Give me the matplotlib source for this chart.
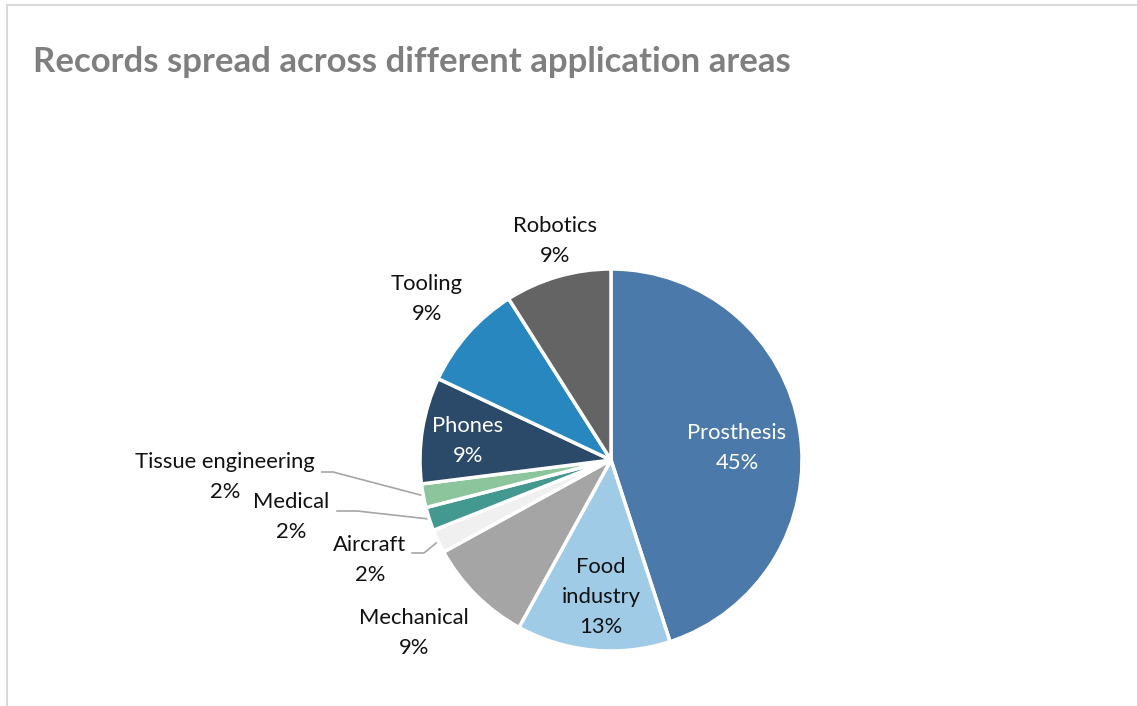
import matplotlib
matplotlib.use("Agg")
import matplotlib.pyplot as plt
import numpy as np

# Application areas, clockwise from 12 o'clock
categories = ["Prosthesis", "Food industry", "Mechanical", "Aircraft", "Medical",
              "Tissue engineering", "Phones", "Tooling", "Robotics"]
shares = [45, 13, 9, 2, 2, 2, 9, 9, 9]
label_text = ["Prosthesis", "Food\nindustry", "Mechanical", "Aircraft", "Medical",
              "Tissue engineering", "Phones", "Tooling", "Robotics"]

colors = ["#4B79AA", "#9FCBE7", "#A5A5A5", "#F0F0F0", "#43998F",
          "#8CC49C", "#2B4968", "#2987C0", "#646464"]
text_colors = ["white", "#111111", "#111111", "#111111", "#111111",
               "#111111", "white", "#111111", "#111111"]

W, H = 1137, 706
fig = plt.figure(figsize=(W / 100, H / 100), dpi=100)
ax = fig.add_axes([0, 0, 1, 1])
ax.axis("off")

FONT = "Lato"

# chart frame: top and left edges only
ax.plot([7, 7, W], [0, H - 5, H - 5], color="#D9D9D9", lw=1.5, solid_joinstyle="miter")

ax.text(33, H - 62, "Records spread across different application areas",
        fontsize=25, fontweight="bold", color="#7F7F7F", family=FONT, va="center", ha="left")

cx, cy, R = 611, H - 460, 191
wedges, _ = ax.pie(shares, colors=colors, startangle=90, counterclock=False,
                   center=(cx, cy), radius=R,
                   wedgeprops=dict(edgecolor="white", linewidth=2.5))
ax.set_aspect("equal")
ax.set_xlim(0, W)
ax.set_ylim(0, H)

# label block centres (pixels from top-left) for each area; each line drawn separately
label_pos = [(737, 448), (601, 597), (414, 633), (370, 560), (291, 517),
             (225, 477), (468, 441), (427, 299), (555, 241)]
LINE_STEP = 30
for i, (name, pct) in enumerate(zip(label_text, shares)):
    x, y = label_pos[i]
    lines = name.split("\n") + [f"{pct}%"]
    top = y - LINE_STEP * (len(lines) - 1) / 2
    for k, line in enumerate(lines):
        ax.text(x, H - (top + k * LINE_STEP), line, ha="center", va="center",
                fontsize=15.8, family=FONT, color=text_colors[i])

# leader lines for the thin slices
leaders = {3: [(412, 553), (424, 553)], 4: [(337, 511), (357, 511)], 5: [(322, 472), (333, 472)]}
for i, pts in leaders.items():
    w = wedges[i]
    mid = np.deg2rad((w.theta1 + w.theta2) / 2)
    ex, ey = cx + R * np.cos(mid), cy + R * np.sin(mid)
    xs = [p[0] for p in pts] + [ex]
    ys = [H - p[1] for p in pts] + [ey]
    ax.plot(xs, ys, color="#A6A6A6", lw=1.2, zorder=0.5)

fig.savefig("out.png", dpi=100, facecolor="white")
